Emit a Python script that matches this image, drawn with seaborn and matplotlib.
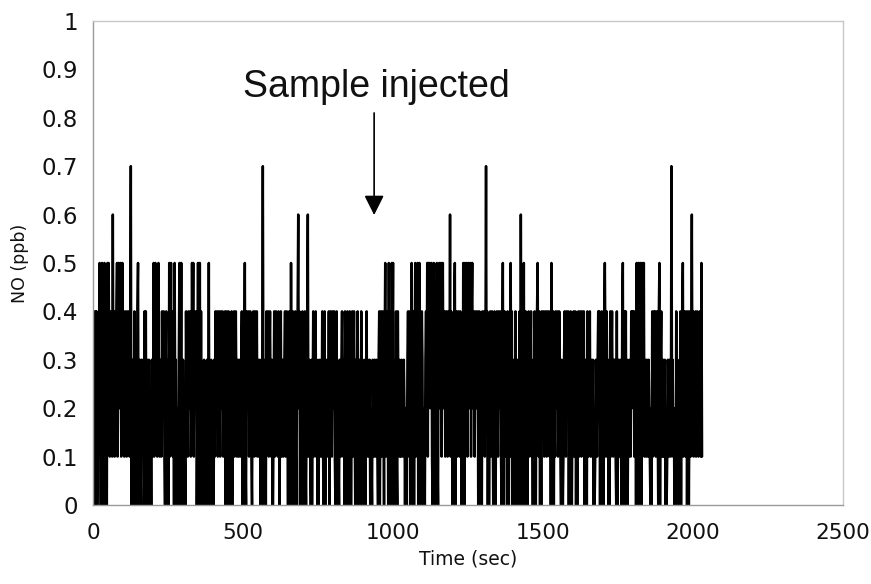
import matplotlib
matplotlib.use("Agg")
import matplotlib.pyplot as plt
import pandas as pd
import seaborn as sns

# NO readings (ppb x 10), one digit per 2-s sample, grouped in 100-s segments
segments = [
    "2403414023" "1520351405" "2310525314" "2316241324" "5135245135",
    "2413421432" "4137023014" "2031450231" "0321304240" "3123012031",
    "2513524135" "2132142341" "0340230513" "5241305230" "2103502510",
    "3021042314" "2341253514" "2340250150" "4021030120" "3015020310",
    "2031423413" "4214324132" "4034104203" "1402341342" "1321321340",
    "2035104234" "1342103421" "4324132130" "2037201304" "2341342130",
    "0241342314" "2034123123" "4134203420" "5104203410" "3462403104",
    "2034102461" "3210302413" "2413020312" "3142034021" "3214034214",
    "2341034021" "0321342130" "4203412043" "0241342030" "2410320413",
    "0213024132" "1302103213" "2132103402" "4134203514" "2305142053",
    "5023041042" "3121321232" "0210342140" "3502403514" "2503502143",
    "0210342515" "3524510350" "4025104523" "5145234134" "2143261430",
    "2045034134" "2143020540" "5245135245" "1452341342" "3402403104",
    "2341372403" "0241342034" "1034214324" "1035024132" "0420315240",
    "3020401302" "0406231050" "3402034123" "4120304103" "4521403042",
    "3412431423" "4130502403" "1423412431" "0320134214" "3240304102",
    "3412403024" "1342143240" "3020413241" "3213020132" "1342403041",
    "2045314230" "2041342132" "3104023123" "1045034240" "3021321434",
    "2413405205" "3054052351" "3213213210" "2041342413" "4204503421",
    "3123020132" "1321723120" "2040301024" "0345134214" "0340241362",
    "4132413421342151",
]
sample_step_sec = 2
no_ppb = [int(c) / 10 for c in "".join(segments)]
time_sec = [sample_step_sec * i for i in range(len(no_ppb))]

x_ticks = [0, 500, 1000, 1500, 2000, 2500]
y_ticks = [0, 0.1, 0.2, 0.3, 0.4, 0.5, 0.6, 0.7, 0.8, 0.9, 1]
y_tick_labels = ["0", "0.1", "0.2", "0.3", "0.4", "0.5", "0.6", "0.7", "0.8", "0.9", "1"]

annotation_text = "Sample injected"
annotation_text_pos = (945, 0.843)
arrow_start = (937, 0.81)
arrow_end = (937, 0.599)

df = pd.DataFrame({"Time (sec)": time_sec, "NO (ppb)": no_ppb})

sns.set_style("white")
plt.rcParams["font.family"] = ["DejaVu Sans"]

fig = plt.figure(figsize=(8.71, 5.84), dpi=100)
ax = fig.add_axes([0.1068, 0.1353, 0.8611, 0.8288])

sns.lineplot(data=df, x="Time (sec)", y="NO (ppb)", color="black",
             linewidth=1.8, estimator=None, errorbar=None, sort=False, ax=ax)

ax.set_xlim(0, 2500)
ax.set_ylim(0, 1)
ax.set_xticks(x_ticks)
ax.set_yticks(y_ticks)
ax.set_yticklabels(y_tick_labels)
ax.tick_params(axis="both", direction="out", length=4, width=1, color="#9a9a9a",
               labelcolor="#111111")
ax.tick_params(axis="y", pad=7, labelsize=16.5)
ax.tick_params(axis="x", pad=9, labelsize=15.5)

for side in ["left", "bottom"]:
    ax.spines[side].set_color("#9a9a9a")
    ax.spines[side].set_linewidth(1)
for side in ["top", "right"]:
    ax.spines[side].set_visible(True)
    ax.spines[side].set_color("#c8c8c8")
    ax.spines[side].set_linewidth(1)

ax.set_xlabel("Time (sec)", fontsize=13.5, color="#111111", labelpad=5)
ax.set_ylabel("NO (ppb)", fontsize=12.5, color="#111111", labelpad=9)

ax.annotate("", xy=arrow_end, xytext=arrow_start,
            arrowprops=dict(arrowstyle="-|>,head_length=1.0,head_width=0.5",
                            mutation_scale=12, color="black", lw=1.2,
                            shrinkA=0, shrinkB=0))
ax.text(annotation_text_pos[0], annotation_text_pos[1], annotation_text,
        ha="center", va="baseline", fontsize=27, family=["Liberation Sans"],
        color="#111111")

fig.savefig("out.png", dpi=100, facecolor="white")
